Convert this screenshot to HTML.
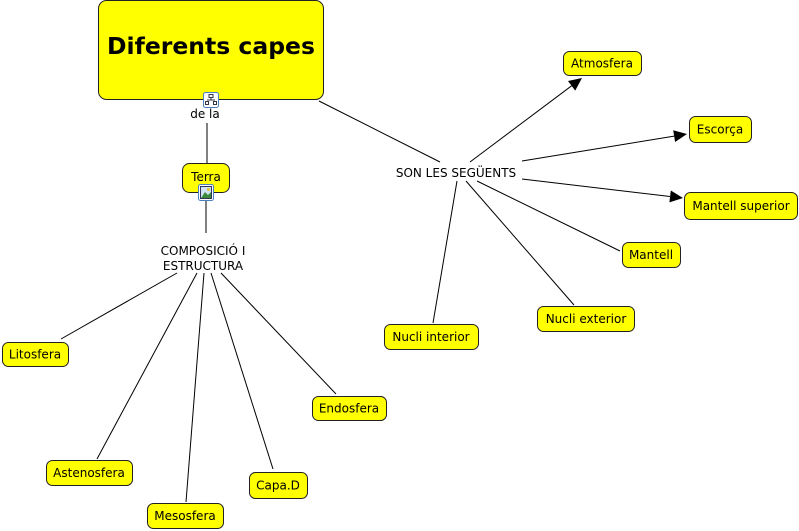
<!DOCTYPE html>
<html><head><meta charset="utf-8"><style>
html,body{margin:0;padding:0;background:#fff;}
svg{display:block;}
text{font-family:"DejaVu Sans","Liberation Sans",sans-serif;font-size:12px;fill:#000;}
.b{fill:#ffff00;stroke:#222;stroke-width:1;}
.l{stroke:#000;stroke-width:1;fill:none;}
</style></head><body>
<svg width="799" height="531" viewBox="0 0 799 531" xmlns="http://www.w3.org/2000/svg">
<!-- connectors -->
<line class="l" x1="207" y1="123" x2="207" y2="163"/>
<line class="l" x1="206" y1="201" x2="206" y2="233"/>
<line class="l" x1="177" y1="273" x2="61" y2="339"/>
<line class="l" x1="197" y1="273" x2="97" y2="459"/>
<line class="l" x1="204" y1="273" x2="186" y2="502"/>
<line class="l" x1="211" y1="273" x2="273" y2="469"/>
<line class="l" x1="221" y1="273" x2="336" y2="394"/>
<line class="l" x1="319" y1="101" x2="440" y2="162"/>
<line class="l" x1="470" y1="162" x2="571.6" y2="85.8"/>
<polygon points="582,78 575.2,90.6 568,81" fill="#000"/>
<line class="l" x1="522" y1="161" x2="674.2" y2="136.1"/>
<polygon points="687,134 675.1,142 673.2,130.2" fill="#000"/>
<line class="l" x1="522" y1="179" x2="670.1" y2="196.5"/>
<polygon points="683,198 669.4,202.4 670.8,190.5" fill="#000"/>
<line class="l" x1="477" y1="181" x2="620" y2="251"/>
<line class="l" x1="466" y1="181" x2="574" y2="305"/>
<line class="l" x1="457" y1="181" x2="433" y2="323"/>

<!-- main box -->
<rect class="b" x="98.5" y="0.5" width="225" height="99" rx="8"/>
<text x="211" y="54" text-anchor="middle" style="font-size:23.5px;font-weight:bold;">Diferents capes</text>
<!-- icon -->
<rect x="203.5" y="92.5" width="15" height="15" rx="2" fill="#fff" stroke="#4a7fc0"/>
<g stroke="#334" stroke-width="1" fill="none">
<rect x="209" y="94.5" width="4" height="3"/>
<line x1="211" y1="97.5" x2="211" y2="100"/>
<line x1="207" y1="100" x2="215" y2="100"/>
<rect x="205.5" y="101.5" width="3" height="3"/>
<rect x="213.5" y="101.5" width="3" height="3"/>
</g>
<text x="205" y="118" text-anchor="middle">de la</text>

<!-- Terra -->
<rect class="b" x="182.5" y="163.5" width="47" height="29" rx="7"/>
<text x="206" y="181" text-anchor="middle">Terra</text>
<rect x="198.5" y="184.5" width="15" height="16" rx="2" fill="#fff" stroke="#4a7fc0"/>
<rect x="200.5" y="186.5" width="11" height="12" fill="#cfe3f5" stroke="#335"/>
<polygon points="201,198 205,192 208,195 211,192 211,198" fill="#3a8a3a"/>
<circle cx="208.5" cy="189.5" r="1.5" fill="#e8c030"/>

<text x="203" y="255" text-anchor="middle">COMPOSICIÓ I</text>
<text x="203" y="270" text-anchor="middle">ESTRUCTURA</text>

<rect class="b" x="2.5" y="342.5" width="66" height="24" rx="6"/>
<text x="35" y="358.5" text-anchor="middle">Litosfera</text>
<rect class="b" x="46.5" y="460.5" width="86" height="25" rx="6"/>
<text x="89" y="477" text-anchor="middle">Astenosfera</text>
<rect class="b" x="147.5" y="503.5" width="76" height="25" rx="6"/>
<text x="185" y="520" text-anchor="middle">Mesosfera</text>
<rect class="b" x="249.5" y="472.5" width="58" height="26" rx="6"/>
<text x="278" y="489.5" text-anchor="middle">Capa.D</text>
<rect class="b" x="312.5" y="396.5" width="74" height="24" rx="6"/>
<text x="349" y="412.5" text-anchor="middle">Endosfera</text>

<text x="456" y="177" text-anchor="middle">SON LES SEGÜENTS</text>

<rect class="b" x="563.5" y="51.5" width="78" height="24" rx="6"/>
<text x="602" y="67.5" text-anchor="middle">Atmosfera</text>
<rect class="b" x="689.5" y="116.5" width="62" height="26" rx="6"/>
<text x="720" y="133.5" text-anchor="middle">Escorça</text>
<rect class="b" x="684.5" y="192.5" width="113" height="27" rx="6"/>
<text x="741" y="210" text-anchor="middle">Mantell superior</text>
<rect class="b" x="622.5" y="242.5" width="58" height="25" rx="6"/>
<text x="651" y="259" text-anchor="middle">Mantell</text>
<rect class="b" x="537.5" y="306.5" width="97" height="25" rx="6"/>
<text x="586" y="323" text-anchor="middle">Nucli exterior</text>
<rect class="b" x="384.5" y="324.5" width="94" height="25" rx="6"/>
<text x="431" y="341" text-anchor="middle">Nucli interior</text>
</svg>
</body></html>
